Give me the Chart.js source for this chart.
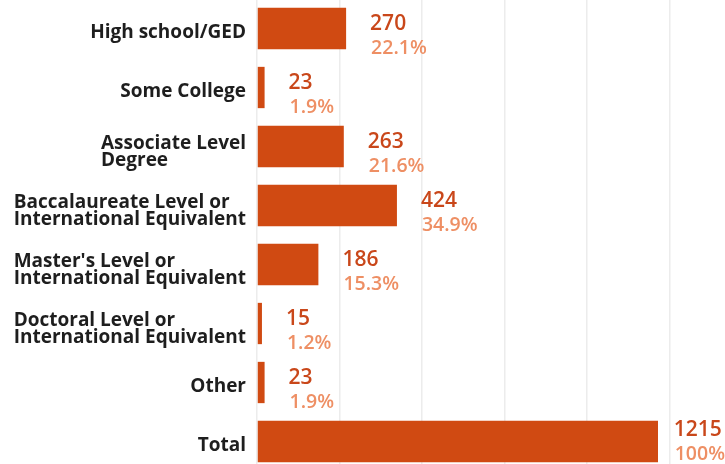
<!DOCTYPE html>
<html>
<head>
<meta charset="utf-8">
<script src="https://cdn.jsdelivr.net/npm/chart.js@4/dist/chart.umd.min.js"></script>
<style>
html,body{margin:0;padding:0;background:#fff;overflow:hidden;width:725px;height:464px;}
#wrap{position:absolute;left:0;top:-1px;width:725px;height:472px;}
</style>
</head>
<body>
<div id="wrap"><canvas id="c"></canvas></div>
<script>
const categories = [
  ["High school/GED"],
  ["Some College"],
  ["Associate Level", "Degree"],
  ["Baccalaureate Level or", "International Equivalent"],
  ["Master's Level or", "International Equivalent"],
  ["Doctoral Level or", "International Equivalent"],
  ["Other"],
  ["Total"]
];
const counts = [270, 23, 263, 424, 186, 15, 23, 1215];
const percents = ["22.1%", "1.9%", "21.6%", "34.9%", "15.3%", "1.2%", "1.9%", "100%"];
const gridStep = 250;
const axisMax = 1418;

const BAR = '#d04a12';
const NUM = '#c9471a';
const PCT = '#ee8f64';
const LABEL = '#1e1e1e';
const FONT = '"Open Sans", "Noto Sans", sans-serif';

const labelPlugin = {
  id: 'labelPlugin',
  afterDatasetsDraw(chart) {
    const ctx = chart.ctx;
    const meta = chart.getDatasetMeta(0);
    const W = chart.width;
    const H = 465;
    ctx.save();
    meta.data.forEach((bar, i) => {
      const cy = bar.y;
      const lines = categories[i];
      ctx.font = '700 19px ' + FONT;
      ctx.fillStyle = LABEL;
      ctx.textAlign = 'left';
      ctx.textBaseline = 'alphabetic';
      let maxW = 0;
      lines.forEach(l => { maxW = Math.max(maxW, ctx.measureText(l).width); });
      const right = 246;
      const left = right - maxW;
      if (lines.length === 1) {
        ctx.fillText(lines[0], left, cy + 9);
      } else {
        ctx.fillText(lines[0], left, cy + 2);
        ctx.fillText(lines[1], left, cy + 19);
      }
      const numTxt = String(counts[i]);
      const pctTxt = percents[i];
      ctx.font = '600 21px ' + FONT;
      const nw = ctx.measureText(numTxt).width;
      ctx.font = '600 19.5px ' + FONT;
      const pw = ctx.measureText(pctTxt).width;
      let x = bar.x + 24;
      const need = Math.max(nw, pw);
      if (x + need > W - 1) x = W - 1 - need;
      let nb = cy + 1;
      let pb = cy + 25;
      if (pb > H - 4) { const d = pb - (H - 4); nb -= d; pb -= d; }
      ctx.font = '600 21px ' + FONT;
      ctx.fillStyle = NUM;
      ctx.fillText(numTxt, x, nb);
      ctx.font = '600 19.5px ' + FONT;
      ctx.fillStyle = PCT;
      ctx.fillText(pctTxt, x + 1, pb);
    });
    ctx.restore();
  }
};

new Chart(document.getElementById('c'), {
  type: 'bar',
  data: {
    labels: categories,
    datasets: [{
      data: counts,
      backgroundColor: BAR,
      borderWidth: 0,
      barPercentage: 0.7,
      categoryPercentage: 1.0
    }]
  },
  options: {
    indexAxis: 'y',
    responsive: true,
    maintainAspectRatio: false,
    animation: false,
    layout: { padding: { left: 257, right: 0, top: 0, bottom: 0 } },
    plugins: { legend: { display: false }, tooltip: { enabled: false } },
    scales: {
      x: {
        min: 0,
        max: axisMax,
        ticks: { display: false, stepSize: gridStep },
        grid: {
          color: (c) => (c.tick && c.tick.value % gridStep === 0) ? '#ececec' : 'rgba(0,0,0,0)',
          lineWidth: 1.5,
          drawTicks: false
        },
        border: { display: false }
      },
      y: {
        ticks: { display: false },
        grid: { display: false, drawTicks: false },
        border: { display: false }
      }
    }
  },
  plugins: [labelPlugin]
});
</script>
</body>
</html>
